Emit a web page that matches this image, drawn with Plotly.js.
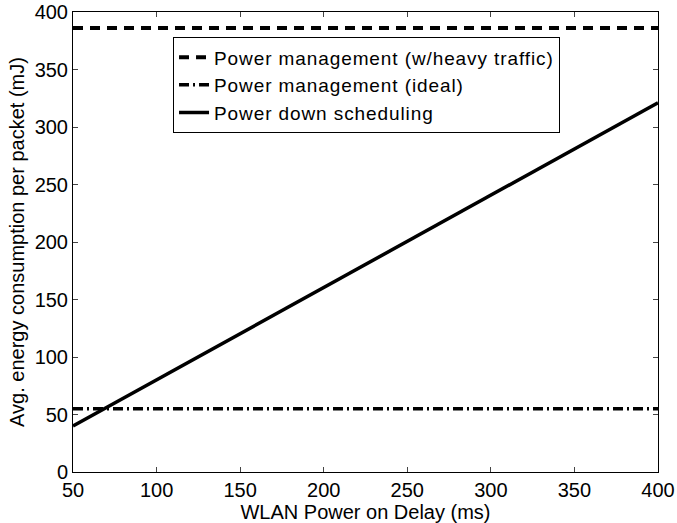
<!DOCTYPE html>
<html><head><meta charset="utf-8">
<script src="https://cdn.plot.ly/plotly-3.0.1.min.js"></script>
<style>body{margin:0;background:#fff}#chart{width:677px;height:523px}.legendtext{letter-spacing:0.9px}</style>
</head><body><div id="chart"></div>
<script>
const delays = [50, 400];
const heavyTraffic = [386, 386];
const ideal = [55, 55];
const scheduling = [40, 321];
const names = ["Power management (w/heavy traffic)", "Power management (ideal)", "Power down scheduling"];
const xTicks = [50, 100, 150, 200, 250, 300, 350, 400];
const yTicks = [0, 50, 100, 150, 200, 250, 300, 350, 400];

const traces = [
  {x: delays, y: heavyTraffic, mode: 'lines', name: names[0], line: {color: '#000', width: 4, dash: '10px,7px'}},
  {x: delays, y: ideal, mode: 'lines', name: names[1], line: {color: '#000', width: 3.5, dash: '10px,4px,2px,4px'}},
  {x: delays, y: scheduling, mode: 'lines', name: names[2], line: {color: '#000', width: 3.5}}
];
const fontFam = 'Liberation Sans, Arial, sans-serif';
const layout = {
  width: 677, height: 523,
  margin: {l: 73, r: 19, t: 12, b: 51},
  paper_bgcolor: '#fff', plot_bgcolor: '#fff',
  font: {family: fontFam, size: 20, color: '#000'},
  showlegend: true,
  legend: {x: 0.171, y: 0.945, xanchor: 'left', yanchor: 'top', bordercolor: '#000', borderwidth: 1, bgcolor: '#fff', font: {size: 19}, tracegroupgap: 0},
  xaxis: {range: [50, 400], tickvals: xTicks, ticks: 'inside', ticklen: 5, mirror: 'ticks', showline: true, linecolor: '#000', linewidth: 1, showgrid: false, zeroline: false,
    tickfont: {size: 20},
    title: {text: 'WLAN Power on Delay (ms)', standoff: 0, font: {size: 20}}},
  yaxis: {range: [0, 400], tickvals: yTicks, ticks: 'inside', ticklen: 5, mirror: 'ticks', showline: true, linecolor: '#000', linewidth: 1, showgrid: false, zeroline: false,
    tickfont: {size: 20},
    title: {text: 'Avg. energy consumption per packet (mJ)', standoff: 4, font: {size: 20}}}
};
Plotly.newPlot('chart', traces, layout, {displayModeBar: false});
</script></body></html>
